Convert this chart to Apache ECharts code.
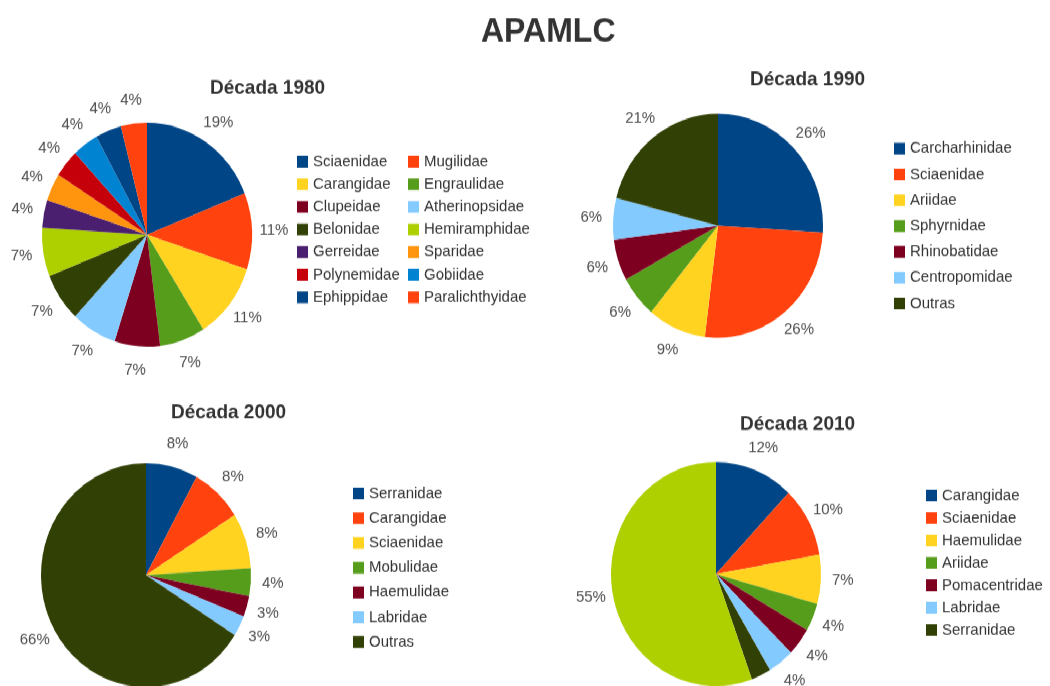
<!DOCTYPE html>
<html>
<head>
<meta charset="utf-8">
<script src="https://cdn.jsdelivr.net/npm/echarts@6/dist/echarts.min.js"></script>
<style>
  html, body { margin: 0; padding: 0; background: #fff; }
  #page { position: relative; width: 1050px; height: 686px; overflow: hidden; }
  /* a figura original está esticada na vertical (~6,7%) */
  #wrap { position: absolute; left: 0; top: 0; width: 1050px; height: 643px;
          transform: scaleY(1.067); transform-origin: 0 0; }
  .layer { position: absolute; left: 0; top: 0; width: 1050px; height: 643px; }
</style>
</head>
<body>
<div id="page">
<div id="wrap">
  <div class="layer" id="c1980"></div>
  <div class="layer" id="c1990"></div>
  <div class="layer" id="c2000"></div>
  <div class="layer" id="c2010"></div>
</div>
</div>
<script>
// paleta padrão do LibreOffice
var palette = ['#004586', '#ff420e', '#ffd320', '#579d1c', '#7e0021', '#83caff', '#314004',
               '#aecf00', '#4b1f6f', '#ff950e', '#c5000b', '#0084d1', '#004586', '#ff420e'];

var names1980 = ['Sciaenidae', 'Mugilidae', 'Carangidae', 'Engraulidae', 'Clupeidae', 'Atherinopsidae',
                 'Belonidae', 'Hemiramphidae', 'Gerreidae', 'Sparidae', 'Polynemidae', 'Gobiidae',
                 'Ephippidae', 'Paralichthyidae'];
var vals1980 = [19, 11, 11, 7, 7, 7, 7, 7, 4, 4, 4, 4, 4, 4];
var legLeft1980 = ['Sciaenidae', 'Carangidae', 'Clupeidae', 'Belonidae', 'Gerreidae', 'Polynemidae', 'Ephippidae'];
var legRight1980 = ['Mugilidae', 'Engraulidae', 'Atherinopsidae', 'Hemiramphidae', 'Sparidae', 'Gobiidae', 'Paralichthyidae'];

var names1990 = ['Carcharhinidae', 'Sciaenidae', 'Ariidae', 'Sphyrnidae', 'Rhinobatidae', 'Centropomidae', 'Outras'];
var vals1990 = [26, 26, 9, 6, 6, 6, 21];

var names2000 = ['Serranidae', 'Carangidae', 'Sciaenidae', 'Mobulidae', 'Haemulidae', 'Labridae', 'Outras'];
var vals2000 = [8, 8, 8, 4, 3, 3, 66];

var names2010 = ['Carangidae', 'Sciaenidae', 'Haemulidae', 'Ariidae', 'Pomacentridae', 'Labridae', 'Serranidae', 'Outras'];
var vals2010 = [12, 10, 7, 4, 4, 4, 3, 55];
var leg2010 = ['Carangidae', 'Sciaenidae', 'Haemulidae', 'Ariidae', 'Pomacentridae', 'Labridae', 'Serranidae'];

var FONT = '"Liberation Sans", Arial, sans-serif';
var R = 105;

function makeData(names, vals) {
  var out = [];
  for (var i = 0; i < names.length; i++) out.push({ name: names[i], value: vals[i] });
  return out;
}

function legend(data, left, top, gap) {
  return {
    orient: 'vertical', left: left, top: top, padding: 0,
    itemWidth: 11, itemHeight: 11, itemGap: gap, icon: 'rect',
    selectedMode: false,
    textStyle: { fontFamily: FONT, fontSize: 15, color: '#333' },
    data: data
  };
}

// pizza + anel transparente só para centrar os rótulos fora da pizza
function pies(names, vals, cx, cy) {
  return [{
    type: 'pie', center: [cx, cy], radius: R,
    startAngle: 90, clockwise: true, silent: true,
    color: palette,
    label: { show: false }, labelLine: { show: false },
    data: makeData(names, vals)
  }, {
    type: 'pie', center: [cx, cy], radius: [R, R + 38],
    startAngle: 90, clockwise: true, silent: true,
    itemStyle: { color: 'rgba(0,0,0,0)' },
    label: { show: true, position: 'inside', formatter: '{c}%',
             fontFamily: FONT, fontSize: 15, color: '#4d4d4d' },
    labelLine: { show: false },
    data: makeData(names, vals)
  }];
}

function title(text, left, top, size) {
  return { text: text, left: left, top: top, padding: 0,
           textStyle: { fontFamily: FONT, fontSize: size, fontWeight: 'bold', color: '#333' } };
}

var ch1980 = echarts.init(document.getElementById('c1980'));
ch1980.setOption({
  animation: false,
  title: [title('APAMLC', 481, 14, 32), title('Década 1980', 210, 73, 19)],
  legend: [legend(legLeft1980, 297, 144, 6.2), legend(legRight1980, 408, 144, 6.2)],
  series: pies(names1980, vals1980, 147, 220)
});

var ch1990 = echarts.init(document.getElementById('c1990'));
ch1990.setOption({
  animation: false,
  title: [title('Década 1990', 750, 65.5, 19)],
  legend: [legend(names1990, 894, 131.8, 9.2)],
  series: pies(names1990, vals1990, 718, 211.5)
});

var ch2000 = echarts.init(document.getElementById('c2000'));
ch2000.setOption({
  animation: false,
  title: [title('Década 2000', 171, 377.5, 19)],
  legend: [legend(names2000, 353, 455, 8.2)],
  series: pies(names2000, vals2000, 146, 539)
});

var ch2010 = echarts.init(document.getElementById('c2010'));
ch2010.setOption({
  animation: false,
  title: [title('Década 2010', 740, 388, 19)],
  legend: [legend(leg2010, 926, 457, 6)],
  series: pies(names2010, vals2010, 716, 538)
});
</script>
</body>
</html>
